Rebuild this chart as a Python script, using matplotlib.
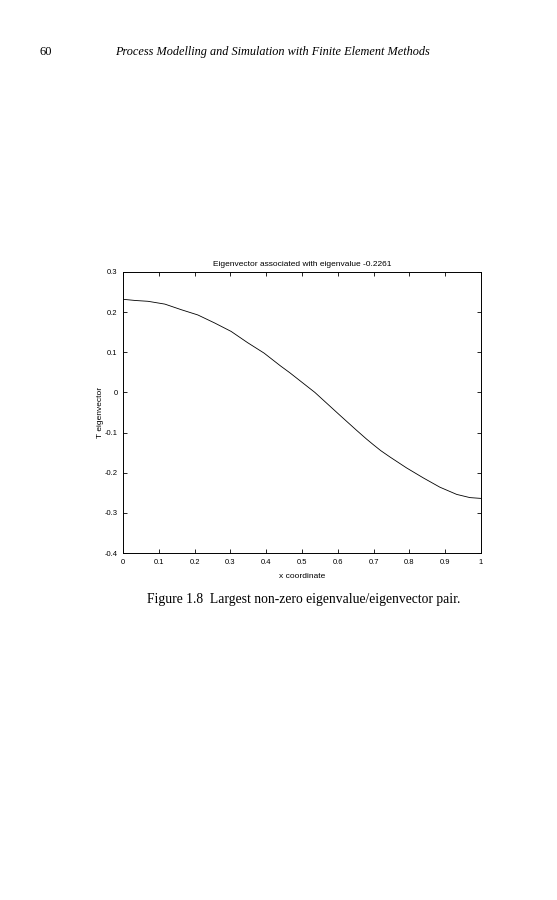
import matplotlib
matplotlib.use("Agg")
import matplotlib.pyplot as plt

# Data
x_coord = [0.0, 0.035, 0.07, 0.117, 0.163, 0.209, 0.256, 0.302, 0.348, 0.394, 0.44,
           0.466, 0.506, 0.536, 0.606, 0.652, 0.68, 0.699, 0.72, 0.746, 0.792, 0.839, 0.885,
           0.932, 0.969, 1.0]
t_eig = [0.232, 0.229, 0.227, 0.220, 0.206, 0.193, 0.173, 0.152, 0.124, 0.098, 0.066,
         0.049, 0.021, 0.0, -0.057, -0.094, -0.116, -0.130, -0.145, -0.161, -0.188, -0.213, -0.236,
         -0.254, -0.262, -0.264]
x_ticks = [0, 0.1, 0.2, 0.3, 0.4, 0.5, 0.6, 0.7, 0.8, 0.9, 1.0]
x_ticklabels = ["0", "0.1", "0.2", "0.3", "0.4", "0.5", "0.6", "0.7", "0.8", "0.9", "1"]
y_ticks = [-0.4, -0.3, -0.2, -0.1, 0, 0.1, 0.2, 0.3]
y_ticklabels = ["-0.4", "-0.3", "-0.2", "-0.1", "0", "0.1", "0.2", "0.3"]

plt.rcParams["font.family"] = ["Liberation Sans", "DejaVu Sans"]

fig = plt.figure(figsize=(5.57, 9.0), dpi=100)
fig.patch.set_facecolor("white")

ax = fig.add_axes([123/557, 1-553/900, (481-123)/557, (553-272)/900])
ax.plot(x_coord, t_eig, color="black", lw=0.6)
ax.set_xlim(0, 1)
ax.set_ylim(-0.4, 0.3)
ax.set_xticks(x_ticks)
ax.set_xticklabels(x_ticklabels)
ax.set_yticks(y_ticks)
ax.set_yticklabels(y_ticklabels)
ax.tick_params(direction="in", length=3, width=0.6, labelsize=5.5, top=True, right=True,
               pad=4, colors="black")
for s in ax.spines.values():
    s.set_linewidth(0.7)
ax.set_title("Eigenvector associated with eigenvalue -0.2261", fontsize=6, pad=4)
ax.set_xlabel("x coordinate", fontsize=6, labelpad=5)
ax.set_ylabel("T eigenvector", fontsize=6, labelpad=0)

serif = ["Liberation Serif", "DejaVu Serif"]
fig.text(40/557, 1-52/900, "60", fontsize=9, family=serif, va="center", ha="left")
fig.text(115/557, 1-52/900, "Process Modelling and Simulation with Finite Element Methods",
         fontsize=8.8, family=serif, style="italic", va="center", ha="left")
fig.text(304/557, 1-600/900, "Figure 1.8  Largest non-zero eigenvalue/eigenvector pair.",
         fontsize=9.8, family=serif, va="center", ha="center")

fig.savefig("out.png", dpi=100)
